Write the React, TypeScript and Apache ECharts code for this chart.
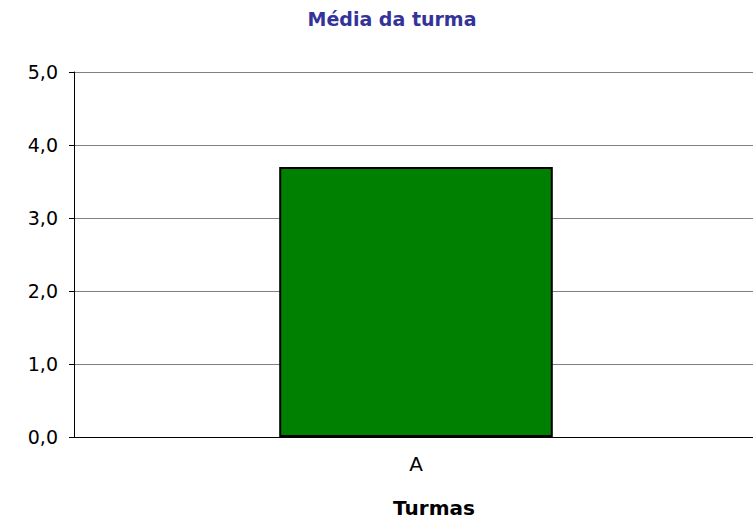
import React, { useEffect, useRef } from "react";
import * as echarts from "echarts";

const categories = ["A"];
const values = [3.7];
const yTicks = { min: 0, max: 5, interval: 1 };
const chartTitle = "Média da turma";
const xAxisTitle = "Turmas";

const FONT = "DejaVu Sans, Liberation Sans, Arial, sans-serif";

export default function App() {
  const ref = useRef<HTMLDivElement>(null);
  useEffect(() => {
    if (!ref.current) return;
    const chart = echarts.init(ref.current, null, { renderer: "svg" });
    chart.setOption({
      animation: false,
      textStyle: { fontFamily: FONT },
      title: [
        {
          text: chartTitle,
          left: 392,
          top: 9,
          padding: 0,
          textAlign: "center",
          textStyle: { color: "#333399", fontSize: 19, fontWeight: "bold", fontFamily: FONT },
        },
        {
          text: xAxisTitle,
          left: 434,
          top: 498,
          padding: 0,
          textAlign: "center",
          textStyle: { color: "#000", fontSize: 20, fontWeight: "bold", fontFamily: FONT },
        },
      ],
      grid: { left: 74, right: 0, top: 72, bottom: 84, containLabel: false },
      xAxis: {
        type: "category",
        data: categories,
        axisLine: { lineStyle: { color: "#000", width: 1 } },
        axisTick: { show: false },
        axisLabel: { color: "#000", fontSize: 20, margin: 17, fontFamily: FONT },
      },
      yAxis: {
        type: "value",
        min: yTicks.min,
        max: yTicks.max,
        interval: yTicks.interval,
        axisLine: { show: true, lineStyle: { color: "#000", width: 1 } },
        axisTick: { show: true, length: 5, lineStyle: { color: "#000" } },
        axisLabel: {
          color: "#000",
          fontSize: 19,
          margin: 16,
          fontFamily: FONT,
          formatter: (v: number) => v.toFixed(1).replace(".", ","),
        },
        splitLine: { show: true, lineStyle: { color: "#808080", width: 1 } },
      },
      series: [
        {
          type: "bar",
          data: values,
          barWidth: "40%",
          itemStyle: { color: "#008000", borderColor: "#000", borderWidth: 2 },
        },
      ],
    });
    return () => chart.dispose();
  }, []);
  return (
    <div style={{ width: 753, height: 521, position: "absolute", left: 0, top: 0, overflow: "hidden" }}>
      <div ref={ref} style={{ width: 758, height: 521 }} />
    </div>
  );
}
